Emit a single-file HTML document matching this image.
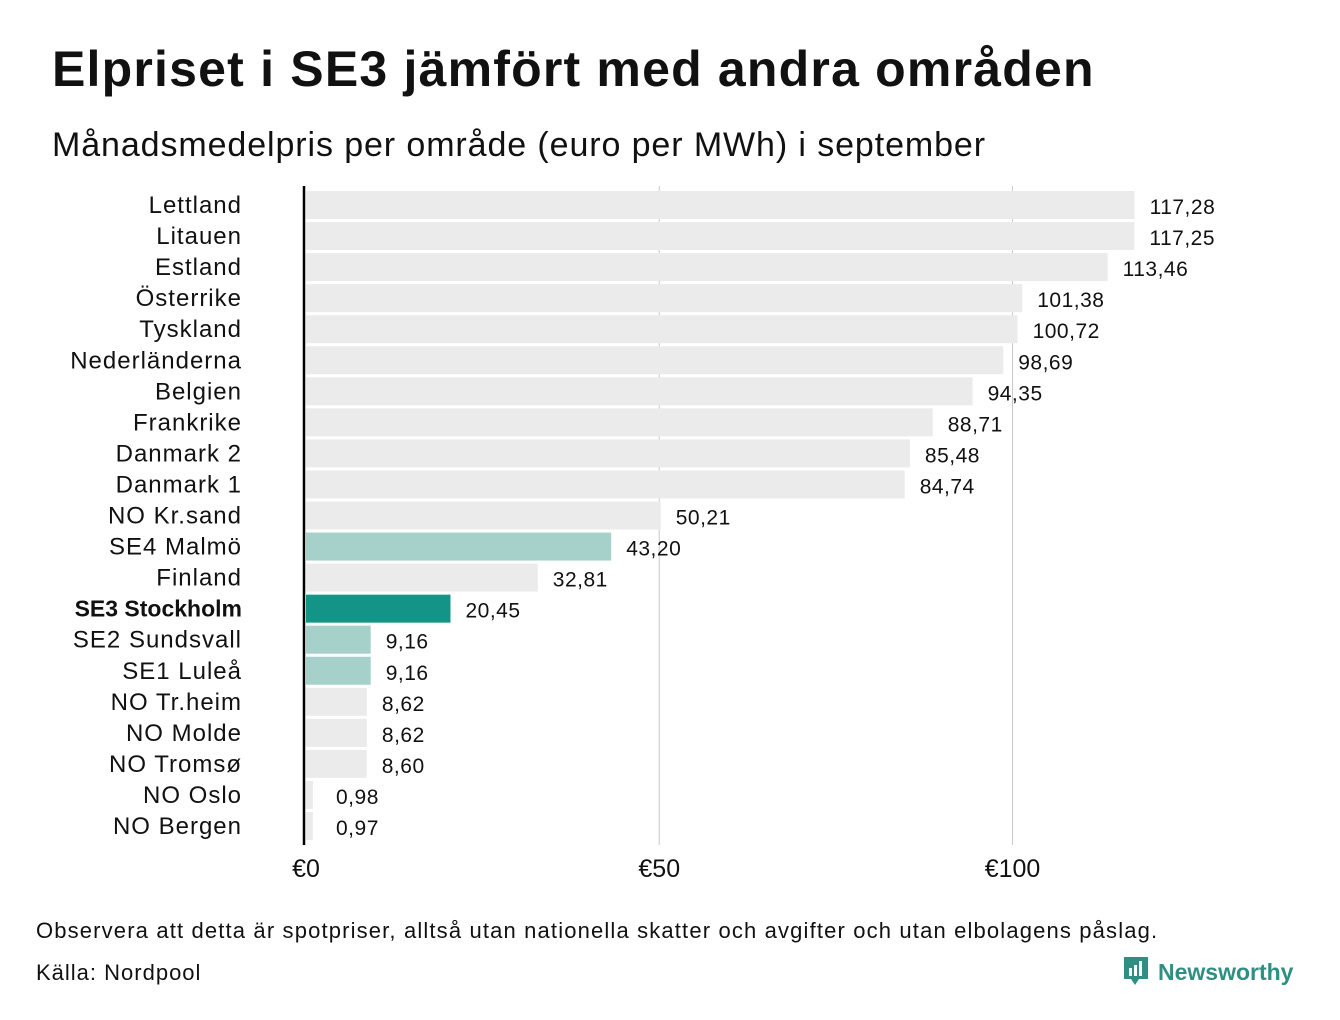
<!DOCTYPE html>
<html><head><meta charset="utf-8"><style>
body{margin:0;width:1340px;height:1020px;background:#fff;font-family:"Liberation Sans",sans-serif;color:#111;overflow:hidden;position:relative}
.t{position:absolute;white-space:nowrap}
</style></head><body>
<div class="t" style="left:52px;top:40px;font-size:50px;font-weight:bold;letter-spacing:1.2px">Elpriset i SE3 jämfört med andra områden</div>
<div class="t" style="left:52px;top:126px;font-size:34px;letter-spacing:0.9px">Månadsmedelpris per område (euro per MWh) i september</div>
<svg id="chart" width="1340" height="900" style="position:absolute;left:0;top:0"></svg>
<div class="t" style="left:36px;top:918px;font-size:22px;letter-spacing:1.15px">Observera att detta är spotpriser, alltså utan nationella skatter och avgifter och utan elbolagens påslag.</div>
<div class="t" style="left:36px;top:960px;font-size:22px;letter-spacing:1px">Källa: Nordpool</div>
<div class="t" style="left:1122px;top:955px;display:flex;align-items:center">
<svg width="28" height="34" viewBox="0 0 28 34"><path d="M2 2h24v22H17l-4 6-4-6H2z" fill="#2f8f82"/><rect x="7" y="13" width="3" height="8" fill="#fff"/><rect x="12" y="10" width="3" height="11" fill="#fff"/><rect x="17" y="6" width="3" height="15" fill="#fff"/></svg>
<span style="color:#2f8f82;font-weight:bold;font-size:23px;margin-left:8px">Newsworthy</span></div>
<script>
const categories=["Lettland","Litauen","Estland","Österrike","Tyskland","Nederländerna","Belgien","Frankrike","Danmark  2","Danmark  1","NO Kr.sand","SE4  Malmö","Finland","SE3 Stockholm","SE2  Sundsvall","SE1  Luleå","NO Tr.heim","NO Molde","NO Tromsø","NO Oslo","NO Bergen"];
const values=[117.28,117.25,113.46,101.38,100.72,98.69,94.35,88.71,85.48,84.74,50.21,43.20,32.81,20.45,9.16,9.16,8.62,8.62,8.60,0.98,0.97];
const ticks=[0,50,100];
const tickLabels=["€0","€50","€100"];
const svg=document.getElementById('chart');
const NS='http://www.w3.org/2000/svg';
const x=v=>306+v*7.065;
const yc=i=>205+i*31.05;
function mk(t,a){const e=document.createElementNS(NS,t);for(const k in a)e.setAttribute(k,a[k]);svg.appendChild(e);return e;}
ticks.forEach((t,i)=>{
 if(t>0){const g=mk('line',{x1:x(t),x2:x(t),y1:186,y2:845,stroke:'#c8c8d8','stroke-width':1});
 
 }
 const l=mk('text',{x:x(t),y:877,'font-size':25,'text-anchor':'middle',fill:'#111'});
 l.textContent=tickLabels[i];
 
 
});
categories.forEach((c,i)=>{
 const col=c==="SE3 Stockholm"?'#139486':(c.startsWith("SE")?'#a6d0ca':'#ebebeb');
 const b=mk('rect',{x:306,y:yc(i)-14,width:Math.max(values[i]*7.065,1),height:28,fill:col});
 
 
 const v=mk('text',{x:Math.max(x(values[i])+15,336),y:yc(i)+9,'font-size':21,fill:'#111','letter-spacing':0.5});
 v.textContent=values[i].toFixed(2).replace('.',',');
 
 
 const bold=c==="SE3 Stockholm";
 const l=mk('text',{x:242,y:yc(i)+8,'font-size':bold?23:24,'text-anchor':'end',fill:'#111','font-weight':bold?'bold':'normal','letter-spacing':bold?0:1,'xml:space':'preserve'});
 l.textContent=c;
 
 
});
const ax=mk('line',{x1:304,x2:304,y1:186,y2:845,stroke:'#000','stroke-width':2.5});


</script>
</body></html>
